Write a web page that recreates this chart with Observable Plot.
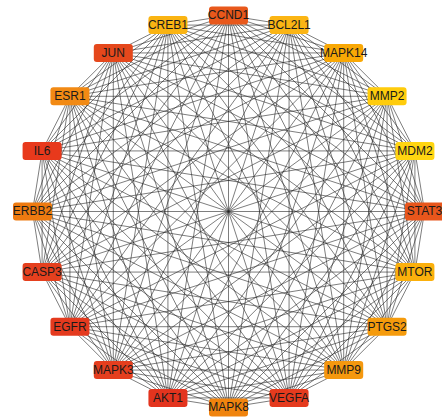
<!DOCTYPE html>
<html>
<head>
<meta charset="utf-8">
<script src="https://cdn.jsdelivr.net/npm/d3@7"></script>
<script src="https://cdn.jsdelivr.net/npm/@observablehq/plot@0.6"></script>
<style>
  html, body { margin: 0; padding: 0; background: #fff; overflow: hidden; }
</style>
</head>
<body>
<div id="chart"></div>
<script>
// Nodes clockwise starting at the top
const genes = ["CCND1","BCL2L1","MAPK14","MMP2","MDM2","STAT3","MTOR","PTGS2","MMP9","VEGFA",
               "MAPK8","AKT1","MAPK3","EGFR","CASP3","ERBB2","IL6","ESR1","JUN","CREB1"];
const colors = ["#E8581B","#FBB514","#F9A805","#FFCC0C","#FFD511","#E8561C","#FBB00C","#F59B0C","#F5980F","#E53B1E",
                "#F0840E","#E3341E","#E53E1E","#E43A1E","#E5401E","#EE7A10","#E8391C","#F28A14","#E5481C","#FAB412"];

const n = genes.length;
const nodes = genes.map((g, i) => {
  const a = (-90 + i * 360 / n) * Math.PI / 180;
  return {name: g, color: colors[i], x: Math.cos(a), y: Math.sin(a)};
});

// complete graph: every pair connected
const edges = [];
for (let i = 0; i < n; i++) for (let j = i + 1; j < n; j++) edges.push({s: nodes[i], t: nodes[j]});

const boxW = 39, boxH = 18, rad = 3;
const roundRect = {
  draw(ctx) {
    const x0 = -boxW / 2, y0 = -boxH / 2, x1 = boxW / 2, y1 = boxH / 2;
    ctx.moveTo(x0 + rad, y0);
    ctx.lineTo(x1 - rad, y0);
    ctx.arcTo(x1, y0, x1, y0 + rad, rad);
    ctx.lineTo(x1, y1 - rad);
    ctx.arcTo(x1, y1, x1 - rad, y1, rad);
    ctx.lineTo(x0 + rad, y1);
    ctx.arcTo(x0, y1, x0, y1 - rad, rad);
    ctx.lineTo(x0, y0 + rad);
    ctx.arcTo(x0, y0, x0 + rad, y0, rad);
    ctx.closePath();
  }
};

const chart = Plot.plot({
  width: 442,
  height: 419,
  marginLeft: 32,
  marginRight: 18,
  marginTop: 15,
  marginBottom: 12,
  x: {domain: [-1, 1], axis: null},
  y: {domain: [-1, 1], reverse: true, axis: null},
  style: {background: "#fff"},
  marks: [
    Plot.link(edges, {
      x1: d => d.s.x, y1: d => d.s.y, x2: d => d.t.x, y2: d => d.t.y,
      stroke: "#222", strokeWidth: 0.65, strokeOpacity: 0.9
    }),
    Plot.dot(nodes, {x: "x", y: "y", symbol: roundRect, fill: d => d.color, stroke: "none", r: 10}),
    Plot.text(nodes, {
      x: "x", y: "y", text: "name",
      fontSize: 12, fontFamily: "Liberation Sans, Arial, sans-serif",
      fill: "#1a1a1a"
    })
  ]
});
document.getElementById("chart").appendChild(chart);
</script>
</body>
</html>
